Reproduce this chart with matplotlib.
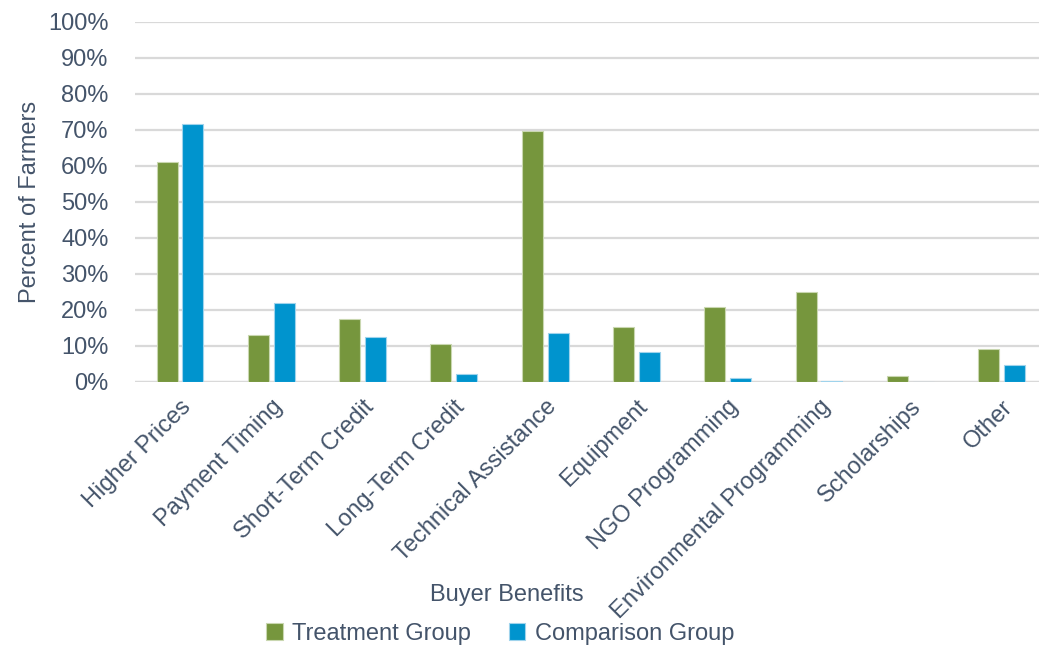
import matplotlib
matplotlib.use("Agg")
import matplotlib.pyplot as plt
import numpy as np
from matplotlib.ticker import FuncFormatter

categories = ["Higher Prices", "Payment Timing", "Short-Term Credit", "Long-Term Credit",
              "Technical Assistance", "Equipment", "NGO Programming",
              "Environmental Programming", "Scholarships", "Other"]
treatment = [61.0, 13.1, 17.5, 10.5, 69.8, 15.4, 20.7, 25.1, 1.6, 9.2]
comparison = [71.6, 22.0, 12.6, 2.1, 13.5, 8.3, 1.2, 0.3, 0.0, 4.7]
yticks = list(range(0, 101, 10))

GREEN = "#76963D"
BLUE = "#0094CE"
TXT = "#44546A"
GRID = "#D9D9D9"

plt.rcParams['font.family'] = ['Liberation Sans', 'DejaVu Sans']

W, H = 1039, 652
fig = plt.figure(figsize=(W/100, H/100), dpi=100)
ax = fig.add_axes([135/W, (H-382)/H, (1039-135)/W, (382-22)/H])

x = np.arange(len(categories))
off = 0.142
bw = 0.23
ax.bar(x - off, treatment, bw, color=GREEN, edgecolor="#C9D7B0", linewidth=0.8,
       label="Treatment Group", zorder=3)
ax.bar(x + off, comparison, bw, color=BLUE, edgecolor="#9FD3EC", linewidth=0.8,
       label="Comparison Group", zorder=3)

ax.set_xlim(-0.493, 9.41)
ax.set_ylim(0, 100)
ax.set_yticks(yticks)
ax.yaxis.set_major_formatter(FuncFormatter(lambda v, p: f"{int(v)}%"))
ax.grid(axis='y', color=GRID, linewidth=1.6, zorder=0)
for s in ax.spines.values():
    s.set_visible(False)
ax.axhline(0, color=GRID, linewidth=1.6, zorder=2)
ax.tick_params(axis='y', length=0, pad=19, labelsize=17, labelcolor=TXT)
ax.tick_params(axis='x', length=0, pad=10, labelsize=17, labelcolor=TXT)
ax.set_xticks(x)
ax.set_xticklabels(categories, rotation=45, ha='right', rotation_mode='anchor')

ax.set_ylabel("Percent of Farmers", fontsize=17, color=TXT, labelpad=10)
ax.yaxis.set_label_coords(30/W - 135/W, 0.5, transform=fig.transFigure) if False else None
fig.text(30/W, 1 - 202/H, "Percent of Farmers", rotation=90, fontsize=17, color=TXT,
         ha='center', va='center')
ax.set_ylabel("")

fig.text(507/W, 1 - 595/H, "Buyer Benefits", fontsize=17, color=TXT, ha='center', va='center')

leg = fig.legend(loc='center', bbox_to_anchor=(500/W, 1 - 634/H), ncol=2, frameon=False,
                 fontsize=17, handlelength=0.7, handleheight=0.7, handletextpad=0.4,
                 columnspacing=1.6)
for t in leg.get_texts():
    t.set_color(TXT)

fig.savefig("out.png", dpi=100)
